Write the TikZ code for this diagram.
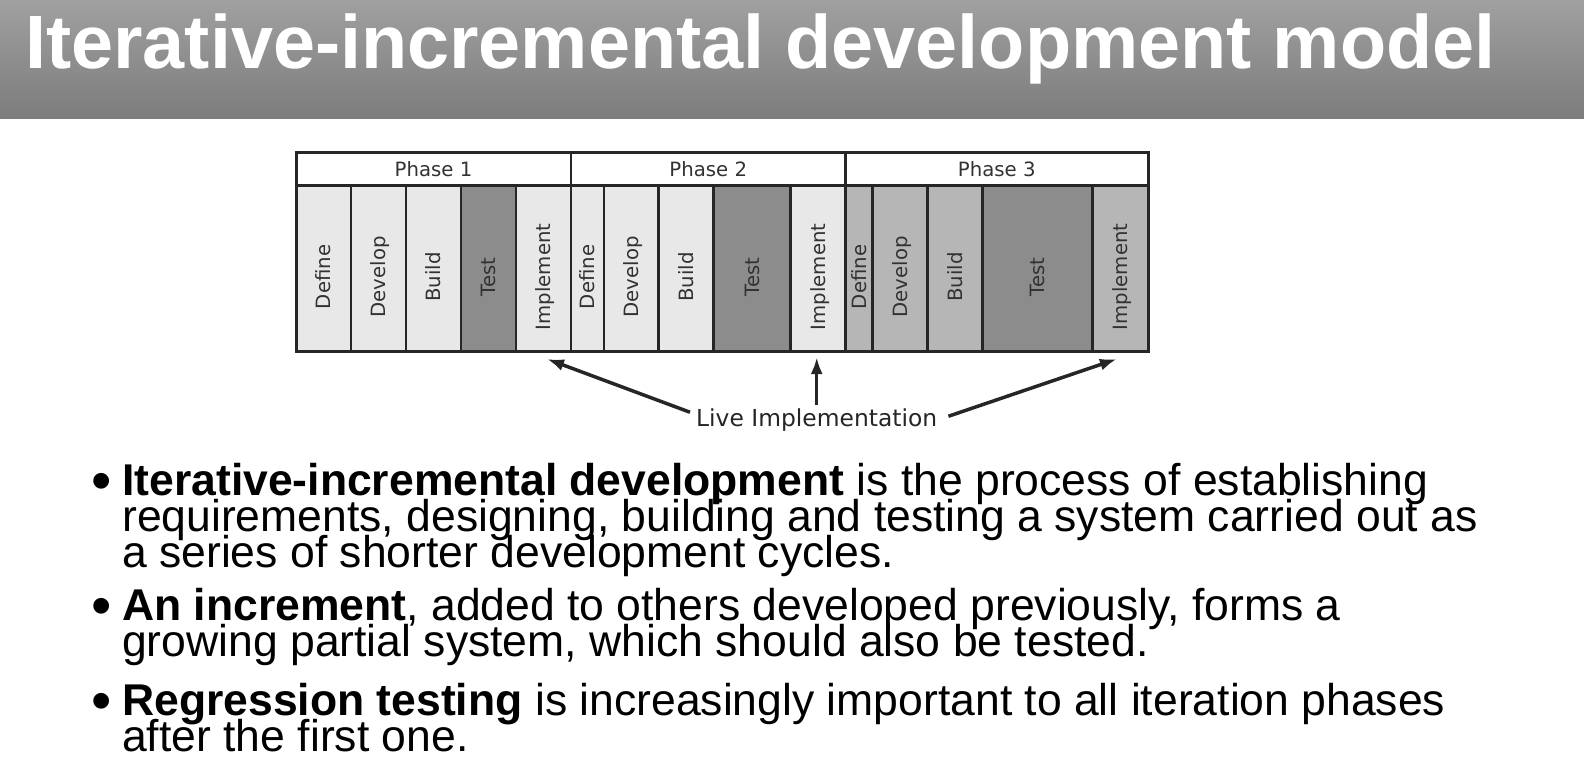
\documentclass[tikz,border=0pt]{standalone}
\usepackage{fontspec}
\setmainfont{Liberation Sans}
\newfontfamily\chartfont{DejaVu Sans}
\usetikzlibrary{arrows.meta}

\definecolor{barTop}{RGB}{160,160,160}
\definecolor{barBottom}{RGB}{124,124,124}
\definecolor{cellLight}{RGB}{232,232,232}
\definecolor{cellMid}{RGB}{182,182,182}
\definecolor{cellDark}{RGB}{140,140,140}
\definecolor{lineDark}{RGB}{38,38,38}
\definecolor{labelText}{RGB}{50,50,50}

\begin{document}
\begin{tikzpicture}[x=1pt, y=-1pt,
  cell/.style={draw=lineDark, line width=2.5pt, anchor=north west, minimum height=165.3pt, inner sep=0pt, outer sep=0pt},
  phasecell/.style={draw=lineDark, line width=2.5pt, fill=white, anchor=north west, minimum height=32.7pt, inner sep=0pt, outer sep=0pt, text=labelText, font=\chartfont\fontsize{19.7}{22}\selectfont},
  lbl/.style={rotate=90, inner sep=0pt, text height=14.5pt, text depth=0pt, text=labelText, font=\chartfont\fontsize{19.7}{22}\selectfont},
  livearrow/.style={draw=lineDark, line width=3.5pt, -{Latex[length=17pt,width=12pt]}},
  txt/.style={anchor=base west, inner sep=0pt, font=\fontsize{44.5}{36}\selectfont},
  bul/.style={anchor=base west, inner sep=0pt, font=\fontsize{58}{62}\selectfont}]
  \useasboundingbox (0,0) rectangle (1584,767);

  % title bar
  \shade[top color=barTop, bottom color=barBottom] (0,0) rectangle (1584,119);
  \node[anchor=base west, inner sep=0pt, text=white, font=\bfseries\fontsize{75.6}{80}\selectfont] (title) at (25,69) {Iterative-incremental development model};

  % phase headers
  \node[phasecell, minimum width=275pt] (ph1) at (296,153) {Phase 1};
  \node[phasecell, minimum width=274.5pt] (ph2) at (571,153) {Phase 2};
  \node[phasecell, minimum width=302.5pt] (ph3) at (845.5,153) {Phase 3};

  % phase 1
  \node[cell, fill=cellLight, minimum width=55pt] (def1) at (296,185.7) {};
  \node[cell, fill=cellLight, minimum width=55pt] (dev1) at (351,185.7) {};
  \node[cell, fill=cellLight, minimum width=55pt] (bld1) at (406,185.7) {};
  \node[cell, fill=cellDark, minimum width=55pt] (tst1) at (461,185.7) {};
  \node[cell, fill=cellLight, minimum width=55pt] (imp1) at (516,185.7) {};
  % phase 2
  \node[cell, fill=cellLight, minimum width=33pt] (def2) at (571,185.7) {};
  \node[cell, fill=cellLight, minimum width=54.5pt] (dev2) at (604,185.7) {};
  \node[cell, fill=cellLight, minimum width=55pt] (bld2) at (658.5,185.7) {};
  \node[cell, fill=cellDark, minimum width=77pt] (tst2) at (713.5,185.7) {};
  \node[cell, fill=cellLight, minimum width=55pt] (imp2) at (790.5,185.7) {};
  % phase 3
  \node[cell, fill=cellMid, minimum width=27pt] (def3) at (845.5,185.7) {};
  \node[cell, fill=cellMid, minimum width=55pt] (dev3) at (872.5,185.7) {};
  \node[cell, fill=cellMid, minimum width=55pt] (bld3) at (927.5,185.7) {};
  \node[cell, fill=cellDark, minimum width=110pt] (tst3) at (982.5,185.7) {};
  \node[cell, fill=cellMid, minimum width=55.5pt] (imp3) at (1092.5,185.7) {};

  \draw[lineDark, line width=3pt] (ph1.north west) rectangle (imp3.south east);

  \node[lbl] (def1t) at ([yshift=-8.6pt]def1.center) {Define};
  \node[lbl] (dev1t) at ([yshift=-8.6pt]dev1.center) {Develop};
  \node[lbl] (bld1t) at ([yshift=-8.6pt]bld1.center) {Build};
  \node[lbl] (tst1t) at ([yshift=-8.6pt]tst1.center) {Test};
  \node[lbl] (imp1t) at ([yshift=-8.6pt]imp1.center) {Implement};
  \node[lbl] (def2t) at ([yshift=-8.6pt]def2.center) {Define};
  \node[lbl] (dev2t) at ([yshift=-8.6pt]dev2.center) {Develop};
  \node[lbl] (bld2t) at ([yshift=-8.6pt]bld2.center) {Build};
  \node[lbl] (tst2t) at ([yshift=-8.6pt]tst2.center) {Test};
  \node[lbl] (imp2t) at ([yshift=-8.6pt]imp2.center) {Implement};
  \node[lbl] (def3t) at ([yshift=-8.6pt]def3.center) {Define};
  \node[lbl] (dev3t) at ([yshift=-8.6pt]dev3.center) {Develop};
  \node[lbl] (bld3t) at ([yshift=-8.6pt]bld3.center) {Build};
  \node[lbl] (tst3t) at ([yshift=-8.6pt]tst3.center) {Test};
  \node[lbl] (imp3t) at ([yshift=-8.6pt]imp3.center) {Implement};

  % live implementation
  \node[anchor=base west, inner sep=0pt, text=lineDark, font=\chartfont\fontsize{23.4}{26}\selectfont] (live) at (696,426.7) {Live Implementation};
  \draw[livearrow] ([xshift=-6pt,yshift=8pt]live.west) -- ([xshift=3.5pt,yshift=-8pt]imp1.south);
  \draw[livearrow] ([yshift=4pt]live.north) -- ([yshift=-6pt]live.north |- imp2.south);
  \draw[livearrow] ([xshift=11pt,yshift=4pt]live.east) -- ([xshift=-3.4pt,yshift=-8pt]imp3.south);

  % bullets
  \node[bul] (bul1) at (91,500) {•};
  \node[txt] (l1) at (122,495) {\textbf{Iterative-incremental development} is the process of establishing};
  \node[txt] (l2) at (122,531) {requirements, designing, building and testing a system carried out as};
  \node[txt] (l3) at (122,567) {a series of shorter development cycles.};
  \node[bul] (bul2) at (91,625) {•};
  \node[txt] (l4) at (122,620) {\textbf{An increment}, added to others developed previously, forms a};
  \node[txt] (l5) at (122,656.5) {growing partial system, which should also be tested.};
  \node[bul] (bul3) at (91,720) {•};
  \node[txt] (l6) at (122,715) {\textbf{Regression testing} is increasingly important to all iteration phases};
  \node[txt] (l7) at (122,751.5) {after the first one.};
\end{tikzpicture}
\end{document}
